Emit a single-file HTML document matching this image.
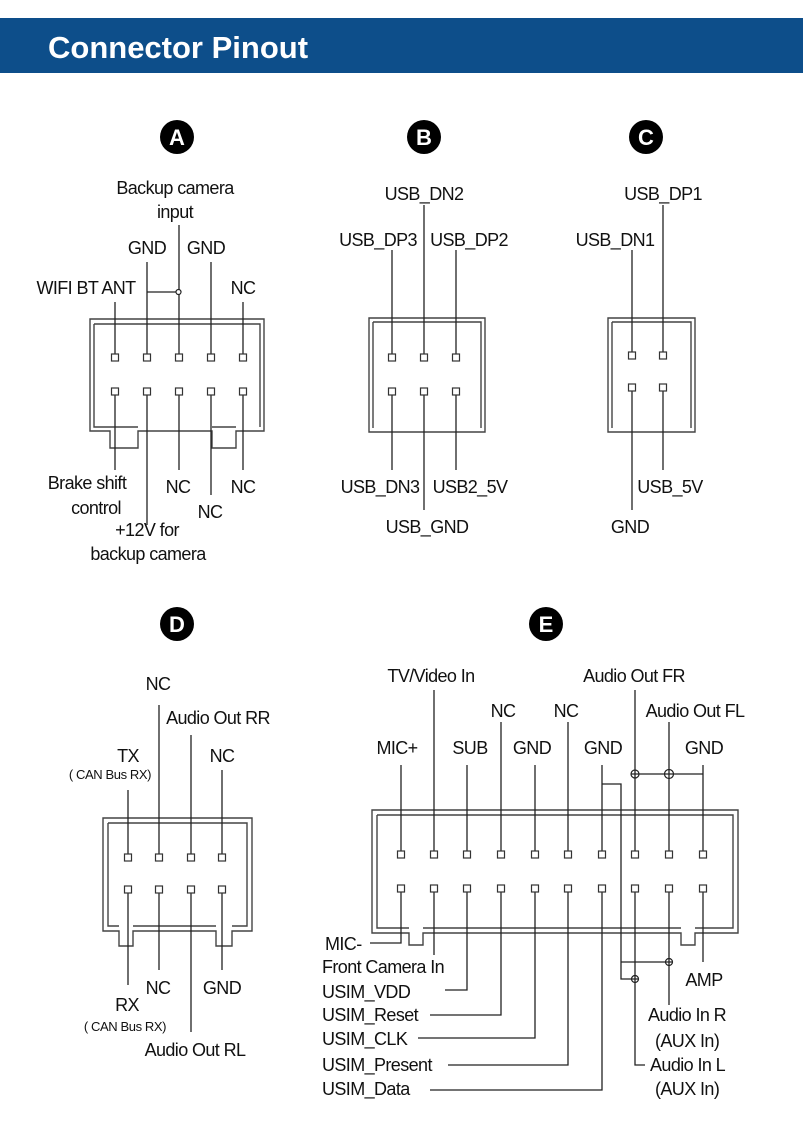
<!DOCTYPE html>
<html><head><meta charset="utf-8"><style>
html,body{margin:0;padding:0;background:#fff;}
svg{display:block;}
text{font-family:"Liberation Sans",sans-serif;font-size:18px;fill:#111;text-anchor:middle;letter-spacing:-0.6px;}
.st{text-anchor:start;}
.s{font-size:13px;letter-spacing:-0.4px;}
.l{fill:none;stroke:#222;stroke-width:1.3;}
.h{fill:none;stroke:#444;stroke-width:1.4;}
.p{fill:#fff;stroke:#333;stroke-width:1.2;}
.c{fill:#fff;stroke:#222;stroke-width:1.2;}
.bl{font-size:22px;font-weight:bold;fill:#fff;letter-spacing:0;}
</style></head><body>
<svg width="803" height="1138" viewBox="0 0 803 1138">
<rect x="0" y="18" width="803" height="55" fill="#0d4e8a"/>
<text x="48" y="58" style="font-size:31px;font-weight:bold;fill:#fff;text-anchor:start;letter-spacing:0">Connector Pinout</text>

<circle cx="177" cy="137" r="17"/><text class="bl" x="177" y="145">A</text>
<circle cx="424" cy="137" r="17"/><text class="bl" x="424" y="145">B</text>
<circle cx="646" cy="137" r="17"/><text class="bl" x="646" y="145">C</text>
<circle cx="177" cy="624" r="17"/><text class="bl" x="177" y="632">D</text>
<circle cx="546" cy="624" r="17"/><text class="bl" x="546" y="632">E</text>

<!-- A housing -->
<path class="h" d="M90,319 H264 V431 H236 V448 H212 V431 H138 V448 H110 V431 H90 Z"/>
<path class="h" d="M94,324 H260 V427 M94,324 V427 H138 M212,427 H236"/>
<g class="l">
<path d="M115,302 V358 M147,262 V358 M179,225 V358 M211,262 V358 M243,302 V358"/>
<path d="M147,292 H176"/>
<path d="M115,392 V470 M147,392 V525 M179,392 V470 M211,392 V495 M243,392 V470"/>
</g>
<circle class="c" cx="178.5" cy="292" r="2.5"/>
<g class="p">
<rect x="111.5" y="354" width="7" height="7"/><rect x="143.5" y="354" width="7" height="7"/><rect x="175.5" y="354" width="7" height="7"/><rect x="207.5" y="354" width="7" height="7"/><rect x="239.5" y="354" width="7" height="7"/>
<rect x="111.5" y="388" width="7" height="7"/><rect x="143.5" y="388" width="7" height="7"/><rect x="175.5" y="388" width="7" height="7"/><rect x="207.5" y="388" width="7" height="7"/><rect x="239.5" y="388" width="7" height="7"/>
</g>
<text x="175" y="194">Backup camera</text><text x="175" y="218">input</text>
<text x="147" y="254">GND</text><text x="206" y="254">GND</text>
<text x="86" y="294">WIFI BT ANT</text><text x="243" y="294">NC</text>
<text x="87" y="489">Brake shift</text><text x="96" y="514">control</text>
<text x="147" y="536">+12V for</text><text x="148" y="560">backup camera</text>
<text x="178" y="493">NC</text><text x="210" y="518">NC</text><text x="243" y="493">NC</text>

<!-- B -->
<path class="h" d="M369,318 H485 V432 H369 Z"/>
<path class="h" d="M373,322 H481 V428 M373,322 V428"/>
<g class="l"><path d="M392,250 V358 M424,205 V358 M456,250 V358 M392,392 V470 M424,392 V510 M456,392 V470"/></g>
<g class="p"><rect x="388.5" y="354" width="7" height="7"/><rect x="420.5" y="354" width="7" height="7"/><rect x="452.5" y="354" width="7" height="7"/>
<rect x="388.5" y="388" width="7" height="7"/><rect x="420.5" y="388" width="7" height="7"/><rect x="452.5" y="388" width="7" height="7"/></g>
<text x="424" y="200">USB_DN2</text><text x="378" y="246">USB_DP3</text><text x="469" y="246">USB_DP2</text>
<text x="380" y="493">USB_DN3</text><text x="470" y="493">USB2_5V</text><text x="427" y="533">USB_GND</text>

<!-- C -->
<path class="h" d="M608,318 H695 V432 H608 Z"/>
<path class="h" d="M612,322 H691 V428 M612,322 V428"/>
<g class="l"><path d="M632,250 V356 M663,205 V356 M632,388 V510 M663,388 V470"/></g>
<g class="p"><rect x="628.5" y="352" width="7" height="7"/><rect x="659.5" y="352" width="7" height="7"/>
<rect x="628.5" y="384" width="7" height="7"/><rect x="659.5" y="384" width="7" height="7"/></g>
<text x="663" y="200">USB_DP1</text><text x="615" y="246">USB_DN1</text>
<text x="630" y="533">GND</text><text x="670" y="493">USB_5V</text>

<!-- D -->
<path class="h" d="M103,818 H252 V931 H232 V946 H216 V931 H133 V946 H119 V931 H103 Z"/>
<path class="h" d="M108,823 H247 V926 H232 M216,926 H133 M108,823 V926 H119"/>
<g class="l"><path d="M128,790 V858 M159,705 V858 M191,735 V858 M222,770 V858 M128,890 V985 M159,890 V970 M191,890 V1032 M222,890 V970"/></g>
<g class="p"><rect x="124.5" y="854" width="7" height="7"/><rect x="155.5" y="854" width="7" height="7"/><rect x="187.5" y="854" width="7" height="7"/><rect x="218.5" y="854" width="7" height="7"/>
<rect x="124.5" y="886" width="7" height="7"/><rect x="155.5" y="886" width="7" height="7"/><rect x="187.5" y="886" width="7" height="7"/><rect x="218.5" y="886" width="7" height="7"/></g>
<text x="158" y="690">NC</text><text x="218" y="724">Audio Out RR</text>
<text x="128" y="762">TX</text><text class="s" x="110" y="779">( CAN Bus RX)</text><text x="222" y="762">NC</text>
<text x="158" y="994">NC</text><text x="222" y="994">GND</text>
<text x="127" y="1011">RX</text><text class="s" x="125" y="1031">( CAN Bus RX)</text>
<text x="195" y="1056">Audio Out RL</text>

<!-- E -->
<path class="h" d="M372,810 H738 V933 H695 V945 H681 V933 H423 V945 H409 V933 H372 Z"/>
<path class="h" d="M377,815 H733 V928 H695 M681,928 H423 M377,815 V928 H409"/>
<g class="l">
<path d="M401,765 V854 M434,690 V854 M467,765 V854 M501,722 V854 M535,765 V854 M568,722 V854 M602,765 V854 M635,690 V854 M669,722 V854 M703,765 V854"/>
<path d="M635,774 H703"/>
<path d="M602,784 H621 V979 H632 M621,962 H666"/>
<path d="M401,888 V943 H370 M434,888 V955 M467,888 V990 H445 M501,888 V1015 H430 M535,888 V1038 H418 M568,888 V1065 H448 M602,888 V1090 H430 M635,888 V1065 H645 M669,888 V1005 M703,888 V962"/>
</g>
<circle class="c" cx="635" cy="774" r="4"/><circle class="c" cx="669" cy="774" r="4.5"/>
<circle class="c" cx="669" cy="962" r="3.5"/><circle class="c" cx="635" cy="979" r="3.5"/>
<path class="l" d="M631,774 H639 M635,770 V778 M664.5,774 H673.5 M669,769.5 V778.5 M665.5,962 H672.5 M669,958.5 V965.5 M631.5,979 H638.5 M635,975.5 V982.5"/>
<g class="p">
<rect x="397.5" y="851" width="7" height="7"/><rect x="430.5" y="851" width="7" height="7"/><rect x="463.5" y="851" width="7" height="7"/><rect x="497.5" y="851" width="7" height="7"/><rect x="531.5" y="851" width="7" height="7"/><rect x="564.5" y="851" width="7" height="7"/><rect x="598.5" y="851" width="7" height="7"/><rect x="631.5" y="851" width="7" height="7"/><rect x="665.5" y="851" width="7" height="7"/><rect x="699.5" y="851" width="7" height="7"/>
<rect x="397.5" y="885" width="7" height="7"/><rect x="430.5" y="885" width="7" height="7"/><rect x="463.5" y="885" width="7" height="7"/><rect x="497.5" y="885" width="7" height="7"/><rect x="531.5" y="885" width="7" height="7"/><rect x="564.5" y="885" width="7" height="7"/><rect x="598.5" y="885" width="7" height="7"/><rect x="631.5" y="885" width="7" height="7"/><rect x="665.5" y="885" width="7" height="7"/><rect x="699.5" y="885" width="7" height="7"/>
</g>
<text x="431" y="682">TV/Video In</text><text x="634" y="682">Audio Out FR</text>
<text x="503" y="717">NC</text><text x="566" y="717">NC</text><text x="695" y="717">Audio Out FL</text>
<text x="397" y="754">MIC+</text><text x="470" y="754">SUB</text><text x="532" y="754">GND</text><text x="603" y="754">GND</text><text x="704" y="754">GND</text>
<text class="st" x="325" y="950">MIC-</text>
<text class="st" x="322" y="973">Front Camera In</text>
<text class="st" x="322" y="998">USIM_VDD</text>
<text class="st" x="322" y="1021">USIM_Reset</text>
<text class="st" x="322" y="1045">USIM_CLK</text>
<text class="st" x="322" y="1071">USIM_Present</text>
<text class="st" x="322" y="1095">USIM_Data</text>
<text x="704" y="986">AMP</text>
<text class="st" x="648" y="1021">Audio In R</text><text class="st" x="655" y="1047">(AUX In)</text>
<text class="st" x="650" y="1071">Audio In L</text><text class="st" x="655" y="1095">(AUX In)</text>
</svg>
</body></html>
